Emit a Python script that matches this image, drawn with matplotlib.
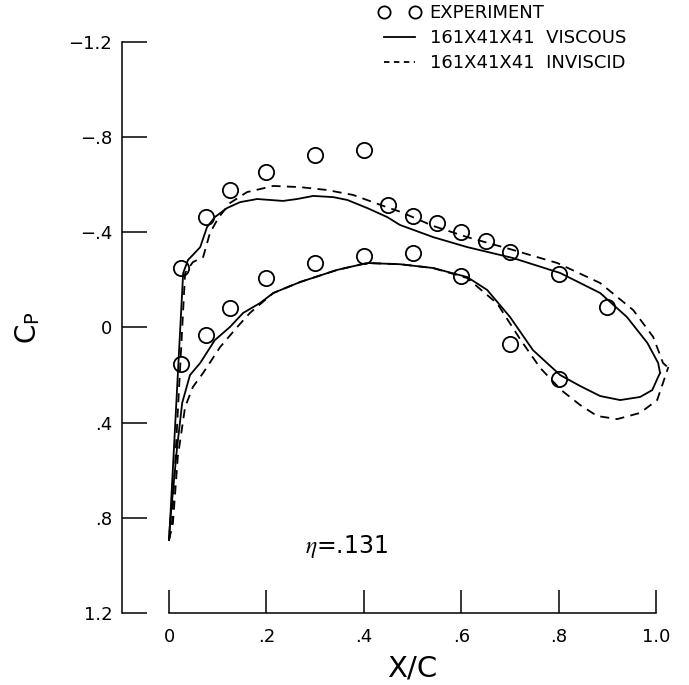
import matplotlib.pyplot as plt
import numpy as np

plt.rcParams['font.family'] = ['DejaVu Sans']
plt.rcParams['mathtext.fontset'] = 'stix'

# experiment, upper and lower surface
exp_up_x = [0.025, 0.075, 0.125, 0.2, 0.3, 0.4, 0.45, 0.5, 0.55, 0.6, 0.65, 0.7, 0.8, 0.9]
exp_up_cp = [-0.25, -0.464, -0.578, -0.654, -0.725, -0.746, -0.515, -0.469, -0.439, -0.401, -0.364, -0.317, -0.225, -0.086]
exp_lo_x = [0.025, 0.075, 0.125, 0.2, 0.3, 0.4, 0.5, 0.6, 0.7, 0.8]
exp_lo_cp = [0.154, 0.032, -0.082, -0.208, -0.271, -0.30, -0.313, -0.216, 0.069, 0.217]

# 161x41x41 viscous
vis_up_x = [0.000, 0.002, 0.029, 0.039, 0.049, 0.064, 0.078, 0.094, 0.119, 0.146, 0.181, 0.234, 0.263,
            0.296, 0.337, 0.366, 0.407, 0.448, 0.474, 0.542, 0.612, 0.706, 0.803, 0.885, 0.940, 0.982,
            1.004, 1.008]
vis_up_cp = [0.893, 0.822, -0.229, -0.284, -0.305, -0.338, -0.422, -0.464, -0.502, -0.527, -0.540, -0.532,
             -0.540, -0.553, -0.548, -0.536, -0.502, -0.464, -0.431, -0.380, -0.338, -0.292, -0.229, -0.145,
             -0.044, 0.065, 0.149, 0.191]
vis_lo_x = [0.000, 0.002, 0.016, 0.027, 0.043, 0.064, 0.094, 0.125, 0.152, 0.187, 0.214, 0.269, 0.345,
            0.407, 0.474, 0.542, 0.612, 0.653, 0.700, 0.747, 0.803, 0.844, 0.885, 0.926, 0.967, 0.992,
            1.004, 1.008]
vis_lo_cp = [0.893, 0.822, 0.515, 0.317, 0.200, 0.149, 0.053, -0.002, -0.061, -0.103, -0.145, -0.191, -0.242,
             -0.271, -0.266, -0.250, -0.212, -0.158, -0.044, 0.095, 0.200, 0.246, 0.288, 0.305, 0.292, 0.263,
             0.208, 0.191]

# 161x41x41 inviscid
inv_up_x = [0.000, 0.006, 0.033, 0.049, 0.070, 0.084, 0.101, 0.125, 0.160, 0.214, 0.269, 0.324, 0.378,
            0.448, 0.474, 0.542, 0.612, 0.706, 0.797, 0.885, 0.953, 0.994, 1.014, 1.023]
inv_up_cp = [0.893, 0.822, -0.229, -0.275, -0.296, -0.397, -0.460, -0.523, -0.569, -0.595, -0.590, -0.578,
             -0.557, -0.505, -0.487, -0.427, -0.380, -0.326, -0.271, -0.187, -0.073, 0.040, 0.149, 0.166]
inv_lo_x = [0.000, 0.008, 0.018, 0.033, 0.049, 0.070, 0.105, 0.140, 0.166, 0.214, 0.269, 0.345, 0.407,
            0.474, 0.542, 0.612, 0.674, 0.721, 0.762, 0.805, 0.844, 0.879, 0.920, 0.967, 1.002, 1.014, 1.025]
inv_lo_cp = [0.893, 0.822, 0.544, 0.334, 0.250, 0.191, 0.082, -0.002, -0.061, -0.145, -0.191, -0.242, -0.271,
             -0.266, -0.250, -0.208, -0.100, 0.050, 0.170, 0.263, 0.326, 0.372, 0.385, 0.359, 0.305, 0.233,
             0.166]

x_ticks = [0, 0.2, 0.4, 0.6, 0.8, 1.0]
x_labels = ['0', '.2', '.4', '.6', '.8', '1.0']
y_ticks = [-1.2, -0.8, -0.4, 0, 0.4, 0.8, 1.2]
y_labels = ['\u22121.2', '\u2212.8', '\u2212.4', '0', '.4', '.8', '1.2']

fig = plt.figure(figsize=(6.89, 6.85), dpi=100)
ax = fig.add_axes([0.1771, 0.1051, 0.8099, 0.8336])

lw = 1.3
dash = (0, (5, 3.5))
ax.plot(vis_up_x, vis_up_cp, color='black', lw=lw)
ax.plot(vis_lo_x, vis_lo_cp, color='black', lw=lw)
ax.plot(inv_up_x, inv_up_cp, color='black', lw=lw, linestyle=dash)
ax.plot(inv_lo_x, inv_lo_cp, color='black', lw=lw, linestyle=dash)
ax.plot(exp_up_x, exp_up_cp, 'o', ms=11, mfc='none', mec='black', mew=1.3)
ax.plot(exp_lo_x, exp_lo_cp, 'o', ms=11, mfc='none', mec='black', mew=1.3)

ax.set_xlim(-0.0965, 1.049)
ax.set_ylim(1.2, -1.2)

for s in ['top', 'right']:
    ax.spines[s].set_visible(False)
ax.spines['left'].set_bounds(-1.2, 1.2)
ax.spines['bottom'].set_bounds(0, 1.0)
ax.spines['left'].set_linewidth(1.1)
ax.spines['bottom'].set_linewidth(1.1)

ax.set_xticks(x_ticks)
ax.set_xticklabels(x_labels)
ax.set_yticks(y_ticks)
ax.set_yticklabels(y_labels)
ax.tick_params(axis='x', direction='in', length=16.5, width=1.1, pad=11, labelsize=13)
ax.tick_params(axis='y', direction='in', length=18, width=1.1, pad=7, labelsize=13)

ax.set_xlabel('X/C', fontsize=21)
ax.xaxis.set_label_coords(0.52, -0.072)
ax.xaxis.label.set_va('top')
ax.set_ylabel(r'C$_\mathregular{P}$', fontsize=20)
ax.yaxis.set_label_coords(-0.142, 0.5)

ax.text(0.28, 0.92, r'$\eta$=.131', fontsize=17, va='center')

h1, = ax.plot([], [], 'o', ms=11, mfc='none', mec='black', mew=1.3)
h2, = ax.plot([], [], color='black', lw=lw)
h3, = ax.plot([], [], color='black', lw=lw, linestyle=(0, (3, 2.5)))
fig.legend([h1, h2, h3], ['EXPERIMENT', '161X41X41  VISCOUS', '161X41X41  INVISCID'],
           loc='upper left', bbox_to_anchor=(379 / 689, 1 - 4 / 685), frameon=False,
           borderpad=0, borderaxespad=0, handlelength=2.3, handletextpad=0.5,
           labelspacing=0.4, numpoints=2, markerscale=0.8, fontsize=13)

fig.savefig('out.png', dpi=100)
